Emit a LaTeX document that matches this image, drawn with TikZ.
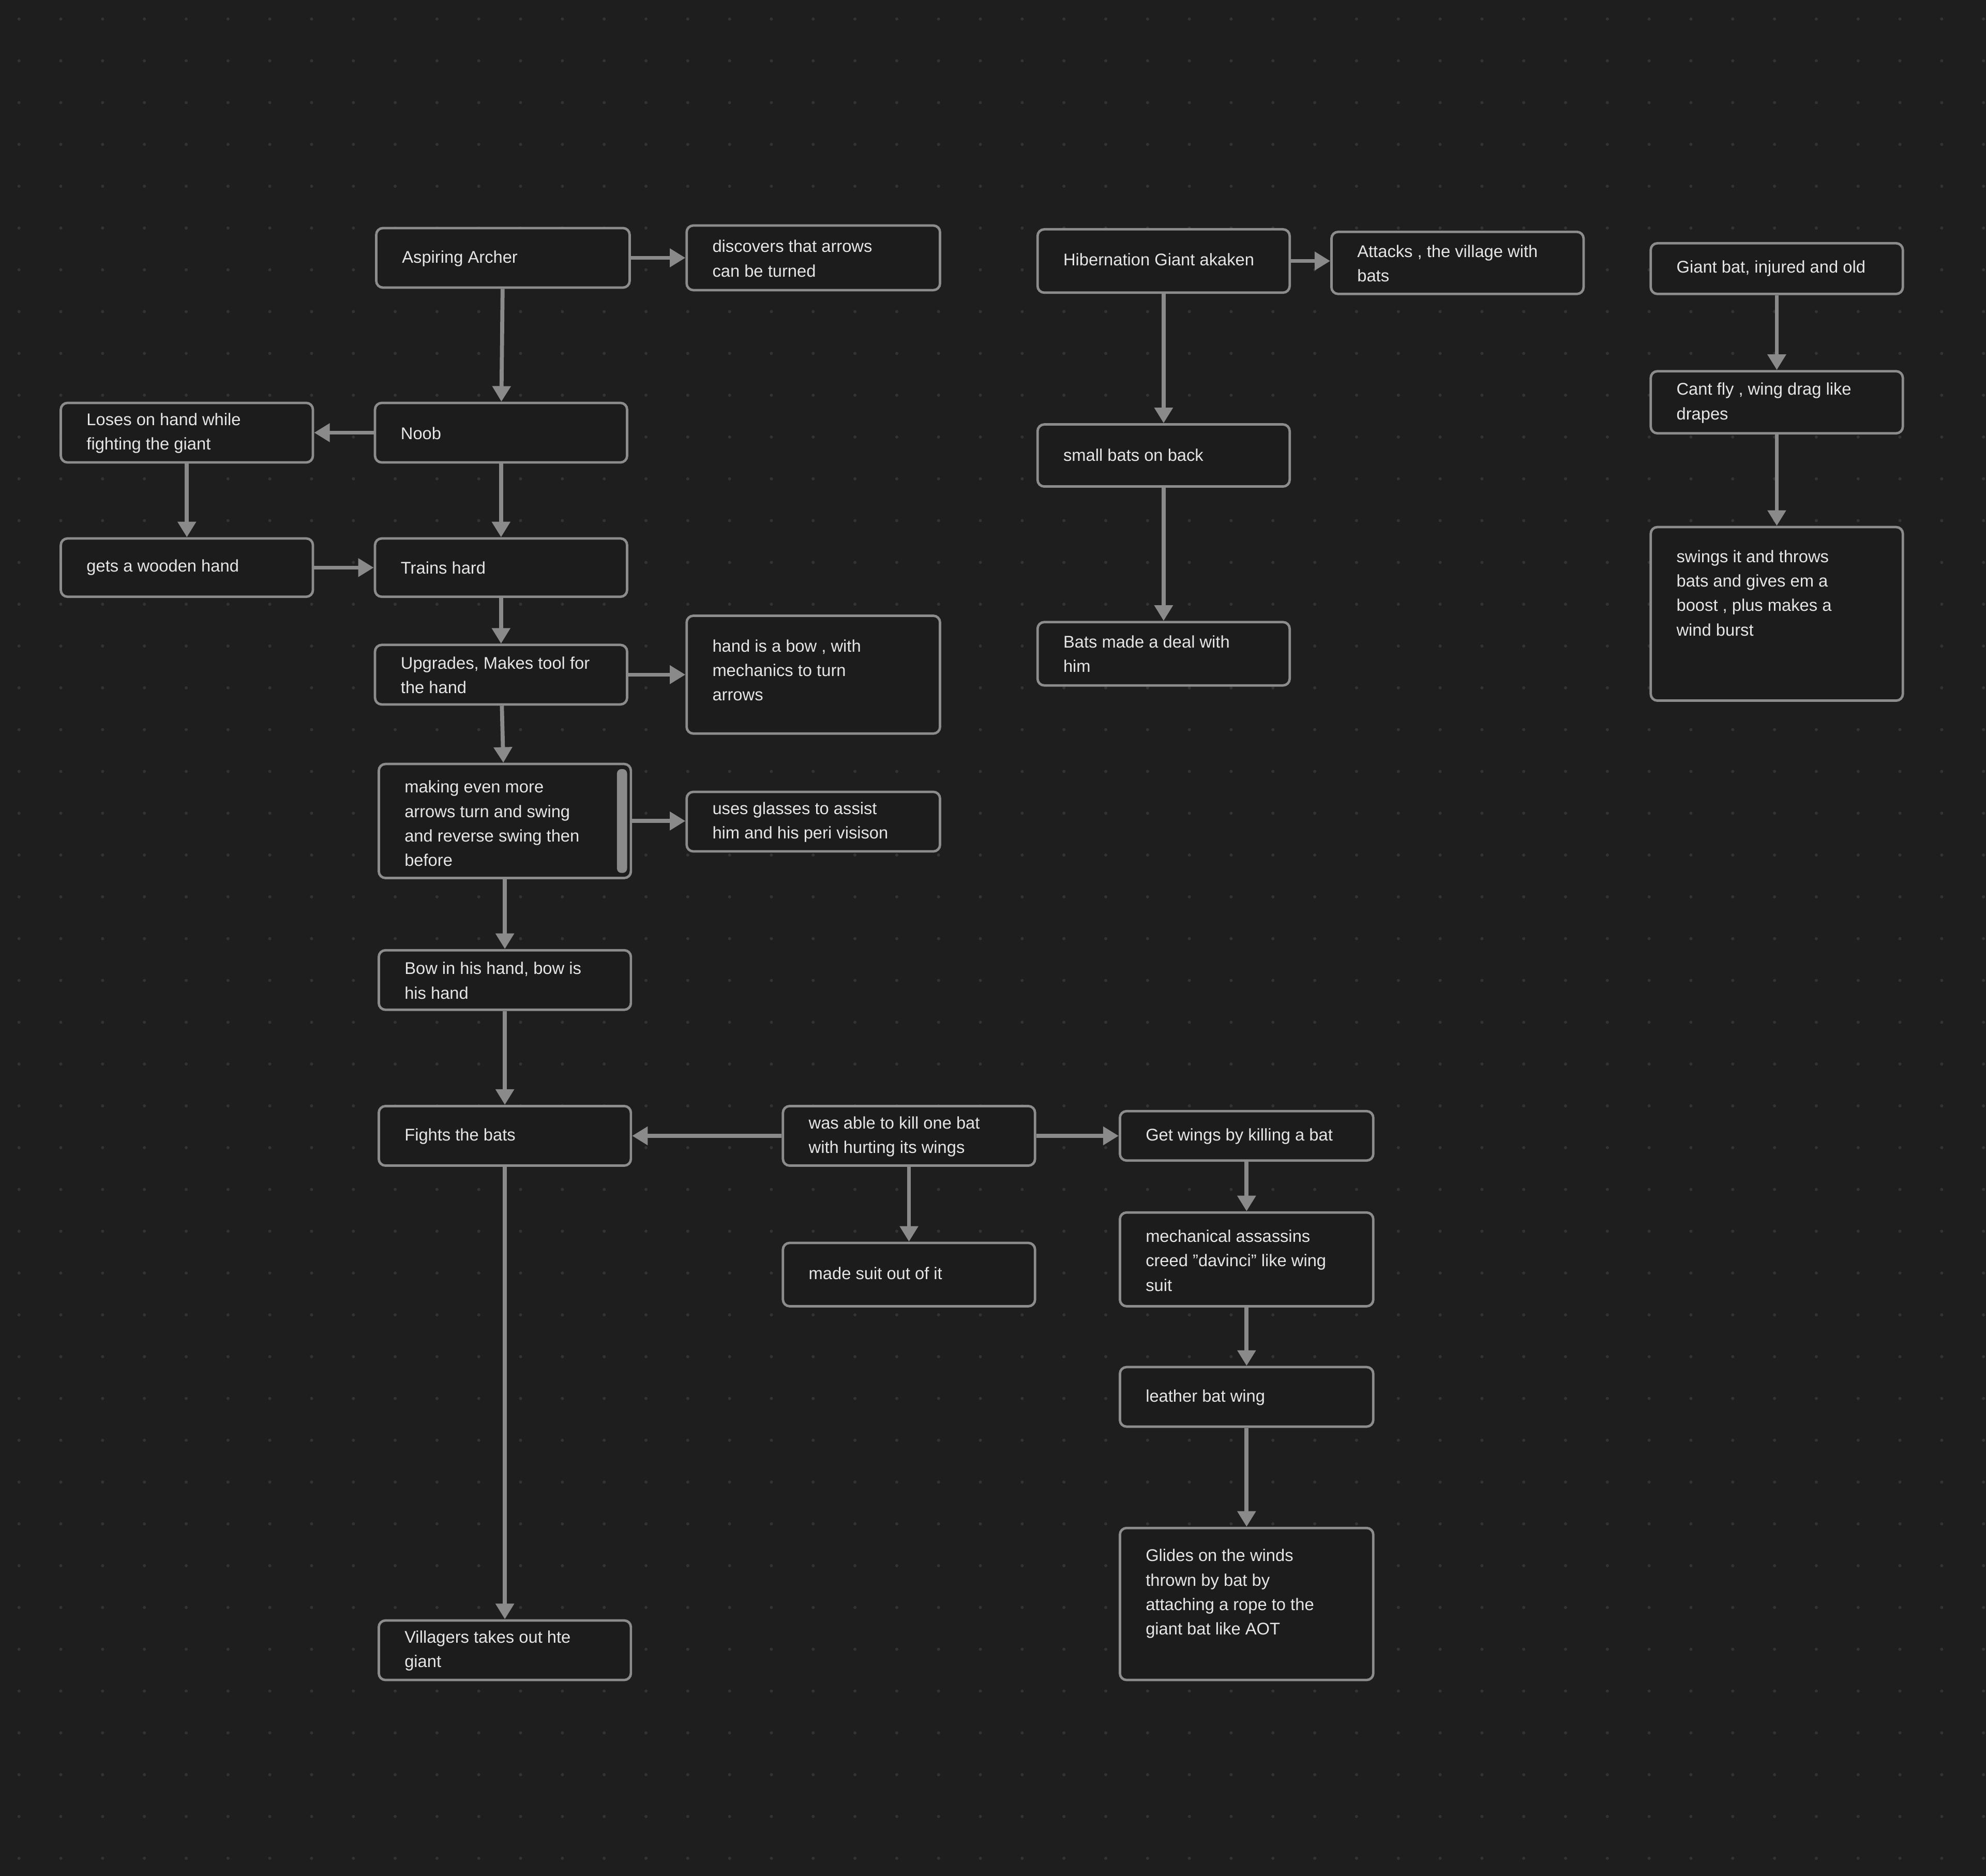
\documentclass[tikz,border=0pt]{standalone}
\usepackage{fontspec}
\setmainfont{Liberation Sans}
\usetikzlibrary{arrows.meta}
\definecolor{bg}{HTML}{1E1E1E}
\definecolor{boxfill}{HTML}{1C1C1C}
\definecolor{boxline}{HTML}{8C8C8C}
\definecolor{txt}{HTML}{E6E6E6}
\definecolor{arr}{HTML}{8A8A8A}
\definecolor{dotc}{HTML}{333333}
\newcommand{\bx}[7]{%
 \node[boxst, minimum width={(#4-#2)*0.02cm}, minimum height={(#5-#3)*0.02cm}] (#1) at ({(#2+#4)/2*0.02},{-(#3+#5)/2*0.02}) {};
 \node[txtst, anchor=west] (#1t) at ({(#2+20)*0.02},{-#6*0.02}) {#7};}
\begin{document}
\begin{tikzpicture}[
 boxst/.style={draw=boxline, fill=boxfill, line width=1.1pt, rounded corners=3pt, inner sep=0pt},
 txtst/.style={text=txt, align=left, inner sep=0pt, font=\fontsize{7.6}{11}\selectfont},
 ar/.style={draw=arr, line width=1.8pt, -{Triangle[length=7pt,width=8pt]}}]
\fill[bg] (0,0) rectangle (31.36,-29.62);
\useasboundingbox (0,0) rectangle (31.36,-29.62);
\foreach \i in {0,...,47}{\foreach \j in {0,...,45}{
 \fill[dotc] ({0.3+\i*0.66},{-0.3-\j*0.66}) circle (0.025);}}
\bx{archer}{297}{180}{497}{227}{204}{Aspiring Archer}
\bx{disc}{542}{178}{742}{229}{204}{discovers that arrows\\can be turned}
\bx{noob}{296}{318}{495}{365}{342}{Noob}
\bx{loses}{48}{318}{247}{365}{342}{Loses on hand while\\fighting the giant}
\bx{wood}{48}{425}{247}{471}{448}{gets a wooden hand}
\bx{trains}{296}{425}{495}{471}{448}{Trains hard}
\bx{upg}{296}{509}{495}{556}{533}{Upgrades, Makes tool for\\the hand}
\bx{bowh}{542}{486}{742}{579}{529}{hand is a bow , with\\mechanics to turn\\arrows}
\bx{making}{299}{603}{498}{693}{650}{making even more\\arrows turn and swing\\and reverse swing then\\before}
\fill[arr,rounded corners=2pt] (487*0.02,-607*0.02) rectangle (495*0.02,-689*0.02);
\bx{glass}{542}{625}{742}{672}{649}{uses glasses to assist\\him and his peri visison}
\bx{bowin}{299}{750}{498}{797}{774}{Bow in his hand, bow is\\his hand}
\bx{fights}{299}{873}{498}{920}{897}{Fights the bats}
\bx{able}{618}{873}{817}{920}{897}{was able to kill one bat\\with hurting its wings}
\bx{getw}{884}{877}{1084}{916}{897}{Get wings by killing a bat}
\bx{suit}{618}{981}{817}{1031}{1005}{made suit out of it}
\bx{mech}{884}{957}{1084}{1031}{995}{mechanical assassins\\creed \symbol{34}davinci\symbol{34} like wing\\suit}
\bx{leather}{884}{1079}{1084}{1126}{1103}{leather bat wing}
\bx{glides}{884}{1206}{1084}{1326}{1258}{Glides on the winds\\thrown by bat by\\attaching a rope to the\\giant bat like AOT}
\bx{vill}{299}{1279}{498}{1326}{1303}{Villagers takes out hte\\giant}
\bx{hib}{819}{181}{1018}{231}{205}{Hibernation Giant akaken}
\bx{att}{1051}{183}{1250}{232}{208}{Attacks , the village with\\bats}
\bx{small}{819}{335}{1018}{384}{359}{small bats on back}
\bx{deal}{819}{491}{1018}{541}{516}{Bats made a deal with\\him}
\bx{giant}{1303}{192}{1502}{232}{212}{Giant bat, injured and old}
\bx{cant}{1303}{293}{1502}{342}{318}{Cant fly , wing drag like\\drapes}
\bx{swings}{1303}{416}{1502}{553}{468}{swings it and throws\\bats and gives em a\\boost , plus makes a\\wind burst}
\draw[ar] (archer) -- (noob);
\draw[ar] (archer.east) -- (archer.east -| disc.west);
\draw[ar] (noob.west) -- (noob.west -| loses.east);
\draw[ar] (noob) -- (trains);
\draw[ar] (loses) -- (wood);
\draw[ar] (wood.east) -- (wood.east -| trains.west);
\draw[ar] (trains) -- (upg);
\draw[ar] (upg.east) -- (upg.east -| bowh.west);
\draw[ar] (upg) -- (making);
\draw[ar] (making.east) -- (making.east -| glass.west);
\draw[ar] (making) -- (bowin);
\draw[ar] (bowin) -- (fights);
\draw[ar] (fights) -- (vill);
\draw[ar] (able.west) -- (able.west -| fights.east);
\draw[ar] (able.east) -- (able.east -| getw.west);
\draw[ar] (able) -- (suit);
\draw[ar] (getw) -- (mech);
\draw[ar] (mech) -- (leather);
\draw[ar] (leather) -- (glides);
\draw[ar] (hib.east) -- (hib.east -| att.west);
\draw[ar] (hib) -- (small);
\draw[ar] (small) -- (deal);
\draw[ar] (giant) -- (cant);
\draw[ar] (cant) -- (swings);
\end{tikzpicture}
\end{document}
